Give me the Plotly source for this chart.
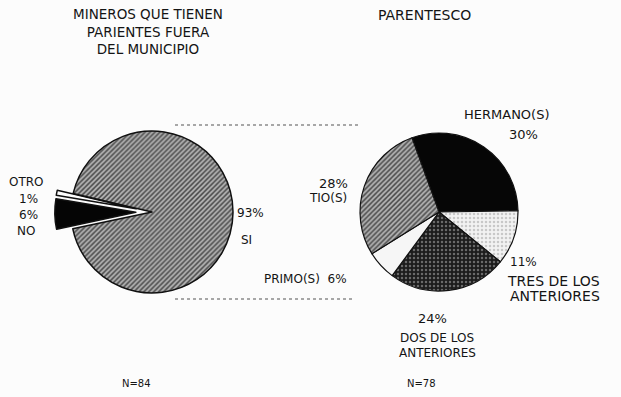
import plotly.graph_objects as go

# left pie: miners with relatives outside the municipality
mineros_labels = ["NO", "OTRO", "SI"]
mineros_values = [6, 1, 93]
mineros_n = 84

# right pie: kinship
parentesco_labels = ["HERMANO(S)", "TRES DE LOS ANTERIORES", "DOS DE LOS ANTERIORES", "PRIMO(S)", "TIO(S)"]
parentesco_values = [30, 11, 24, 6, 28]
parentesco_n = 78

W, H = 621, 397
FONT = dict(family="DejaVu Sans, Liberation Sans, sans-serif", color="#141414", size=12)
HATCH_BG, HATCH_FG = "#b2b2b2", "#4c4c4c"


def dom(cx, cy, r):
    """domain box (paper coords) for a pie centred at pixel (cx, cy)"""
    return dict(x=[(cx - r) / W, (cx + r) / W], y=[(H - cy - r) / H, (H - cy + r) / H])


fig = go.Figure()

PULL = 0.2
fig.add_trace(go.Pie(
    labels=mineros_labels,
    values=mineros_values,
    sort=False,
    direction="clockwise",
    rotation=258,
    pull=[PULL, PULL, 0],
    textinfo="none",
    hoverinfo="label+percent",
    marker=dict(
        colors=["#050505", "#ffffff", "#a0a0a0"],
        line=dict(color="#111111", width=1.5),
        pattern=dict(shape=["", "", "/"], fgcolor=HATCH_FG, bgcolor=HATCH_BG, size=3.5, solidity=0.45),
    ),
    domain=dom(152, 212, 81 * (1 + PULL)),
    showlegend=False,
))

fig.add_trace(go.Pie(
    labels=parentesco_labels,
    values=parentesco_values,
    sort=False,
    direction="clockwise",
    rotation=-20,
    textinfo="none",
    hoverinfo="label+percent",
    marker=dict(
        colors=["#060606", "#ececec", "#2c2c2c", "#f6f6f6", "#a0a0a0"],
        line=dict(color="#111111", width=1.2),
        pattern=dict(shape=["", ".", ".", "", "/"],
                     fgcolor=["#000", "#c8c8c8", "#6a6a6a", "#000", HATCH_FG],
                     bgcolor=["#060606", "#f2f2f2", "#1c1c1c", "#f6f6f6", HATCH_BG],
                     size=[4, 4, 4, 4, 3.5], solidity=[0.3, 0.3, 0.3, 0.3, 0.45]),
    ),
    domain=dom(439, 212, 79),
    showlegend=False,
))


def ann(text, x, y, size=12, xanchor="center"):
    return dict(text=text, x=x / W, y=1 - y / H, xref="paper", yref="paper", showarrow=False,
                font=dict(FONT, size=size), xanchor=xanchor, yanchor="middle")


annotations = [
    ann("MINEROS QUE TIENEN<br>PARIENTES FUERA<br>DEL MUNICIPIO", 148, 31, size=13.5),
    ann("PARENTESCO", 424, 15, size=14),
    ann("OTRO", 26, 182),
    ann(f"{mineros_values[1]}%", 28, 199),
    ann(f"{mineros_values[0]}%", 28, 215),
    ann("NO", 26, 231),
    ann(f"{mineros_values[2]}%", 235, 213, xanchor="left"),
    ann("SI", 246, 240),
    ann("HERMANO(S)", 506, 114, size=13),
    ann(f"{parentesco_values[0]}%", 523, 134, size=13),
    ann(f"{parentesco_values[4]}%", 333, 183, size=13),
    ann("TIO(S)", 328, 198),
    ann(f"{parentesco_values[1]}%", 508, 262, xanchor="left"),
    ann("TRES DE LOS", 553, 281, size=14),
    ann("ANTERIORES", 555, 296, size=14),
    ann(f"{parentesco_values[2]}%", 432, 318, size=13),
    ann("DOS DE LOS", 437, 338),
    ann("ANTERIORES", 437, 353),
    ann(f"PRIMO(S)  {parentesco_values[3]}%", 305, 279),
    ann(f"N={mineros_n}", 136, 383, size=10),
    ann(f"N={parentesco_n}", 421, 383, size=10),
]

shapes = [
    dict(type="line", xref="paper", yref="paper", x0=175 / W, x1=360 / W, y0=1 - 125 / H, y1=1 - 125 / H,
         line=dict(color="#8a8a8a", width=1.5, dash="dot")),
    dict(type="line", xref="paper", yref="paper", x0=175 / W, x1=355 / W, y0=1 - 299 / H, y1=1 - 299 / H,
         line=dict(color="#8a8a8a", width=1.5, dash="dot")),
]

fig.update_layout(
    width=W,
    height=H,
    margin=dict(l=0, r=0, t=0, b=0),
    paper_bgcolor="#fcfcfc",
    plot_bgcolor="#fcfcfc",
    font=FONT,
    annotations=annotations,
    shapes=shapes,
)

fig.write_html("out.html", config={"displayModeBar": False},
               post_script="document.body.style.margin='0';")
